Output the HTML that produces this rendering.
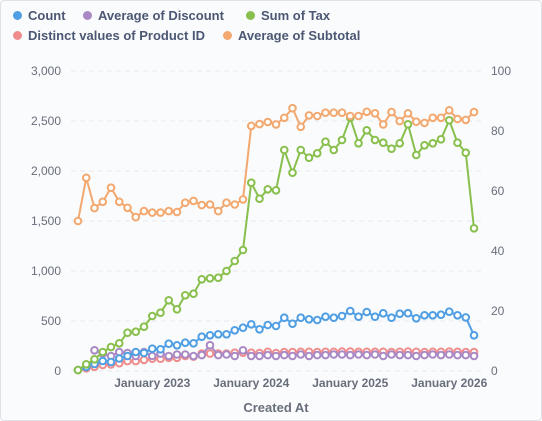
<!DOCTYPE html>
<html><head><meta charset="utf-8">
<style>
html,body{margin:0;padding:0;background:#fff;}
#wrap{position:relative;width:540px;height:419px;border:1px solid #dfe3e8;border-radius:4px;background:#f9fbfc;overflow:hidden;font-family:"Liberation Sans",sans-serif;}
.leg{position:absolute;font-size:13px;font-weight:bold;color:#4c5773;white-space:nowrap;}
.leg i{display:inline-block;width:9px;height:9px;border-radius:50%;margin-right:6px;vertical-align:0px;}
svg{position:absolute;left:0;top:0;}
</style></head><body>
<div id="wrap">
<div class="leg" style="left:12px;top:7px"><i style="background:#509ee3"></i>Count</div>
<div class="leg" style="left:82px;top:7px"><i style="background:#a989c5"></i>Average of Discount</div>
<div class="leg" style="left:245px;top:7px"><i style="background:#88bf4d"></i>Sum of Tax</div>
<div class="leg" style="left:12px;top:27px"><i style="background:#ef8c8c"></i>Distinct values of Product ID</div>
<div class="leg" style="left:222px;top:27px"><i style="background:#f2a86f"></i>Average of Subtotal</div>
<svg id="chart" width="542" height="421"></svg>
</div>
<script>
const leftTicks=[0,500,1000,1500,2000,2500,3000];
const leftTickLabels=["0","500","1,000","1,500","2,000","2,500","3,000"];
const rightTicks=[0,20,40,60,80,100];
const xTickIndex=[9,21,33,45];
const xTickLabels=["January 2023","January 2024","January 2025","January 2026"];
const count=[10,40,70,100,90,125,150,190,180,223,217,273,257,283,277,343,357,367,367,407,433,467,417,460,450,533,473,533,517,510,543,533,550,600,543,590,543,577,533,573,578,527,557,557,563,593,557,536,357];
const discount=[null,null,6.9,5.8,5,6.3,6,5,6.3,5,5.8,5,5.5,5.5,5,5.3,8.6,5.3,5.5,5,6.9,5,5,5.3,5,5.3,5,5.5,5,5.3,5.3,5.5,5.5,5.3,5.5,5.3,5.5,5,5.5,5.3,5.3,5,5.3,5.5,5.3,5.5,5.3,5.3,5];
const tax=[10,67,117,190,240,277,383,393,443,550,583,707,617,757,773,917,927,933,1000,1100,1210,1883,1723,1817,1807,2210,1983,2210,2133,2177,2293,2210,2310,2533,2277,2407,2310,2283,2223,2277,2467,2160,2257,2277,2317,2507,2283,2183,1427];
const productIds=[0.3,0.9,1.4,2,2.2,2.6,3.3,3.3,3.7,4.1,4.1,4.4,4.4,5,4.8,5.8,5.8,5.8,5.8,6.1,6.1,6.1,6,6.4,6,6.3,6.3,6.4,6.4,6.3,6.4,6.4,6.5,6.5,6.4,6.4,6.4,6.4,6.3,6.4,6.5,6.4,6.3,6.4,6.4,6.5,6.4,6.3,6.3];
const subtotal=[50,64.4,54.3,56.4,61.1,56.4,54.4,51.3,53.3,52.8,52.8,53.3,53,56.1,56.7,55.3,55.5,53.3,56.1,55.5,57.2,81.7,82.3,83,82.2,84.4,87.6,81.4,85.2,85,86.1,86.1,86.1,85,85,86.4,85.9,82.2,86.3,83.3,85.9,83.1,82.7,84.4,84.4,86.9,84,83.7,86.3];

const svg=document.getElementById('chart');
const NS='http://www.w3.org/2000/svg';
const X0=77,X1=473,Y0=370,Y1=70;
const n=subtotal.length;
function xs(i){return X0+(X1-X0)*i/(n-1);}
function yl(v){return Y0-(Y0-Y1)*v/3000;}
function yr(v){return Y0-(Y0-Y1)*v/100;}
function mk(tag,attrs){const e=document.createElementNS(NS,tag);for(const k in attrs)e.setAttribute(k,attrs[k]);svg.appendChild(e);return e;}

leftTicks.forEach((t,i)=>{
  const g=mk('line',{x1:70,x2:480,y1:yl(t),y2:yl(t),stroke:'#e6e9ee','stroke-dasharray':'5,4'});
  
  
  const tx=mk('text',{x:60,y:yl(t)+4,'text-anchor':'end','font-size':'12','fill':'#696e7b','font-family':'Liberation Sans, sans-serif'});
  tx.textContent=leftTickLabels[i];
  
  
});
rightTicks.forEach(t=>{
  const tx=mk('text',{x:490,y:yr(t)+4,'text-anchor':'start','font-size':'12','fill':'#696e7b','font-family':'Liberation Sans, sans-serif'});
  tx.textContent=String(t);
  
  
});
xTickIndex.forEach((idx,i)=>{
  const tx=mk('text',{x:xs(idx),y:386,'text-anchor':'middle','font-size':'12','font-weight':'bold','fill':'#696e7b','font-family':'Liberation Sans, sans-serif'});
  tx.textContent=xTickLabels[i];
  
  
});
const xt=mk('text',{x:275,y:411,'text-anchor':'middle','font-size':'13','font-weight':'bold','fill':'#696e7b','font-family':'Liberation Sans, sans-serif'});
xt.textContent='Created At';



function series(data,yf,color,name){
  let d='';
  data.forEach((v,i)=>{if(v==null)return;d+=(d?'L':'M')+xs(i)+','+yf(v);});
  const p=mk('path',{d:d,fill:'none',stroke:color,'stroke-width':2});
  
  
  data.forEach((v,i)=>{
    if(v==null)return;
    const c=mk('circle',{cx:xs(i),cy:yf(v),r:3.3,fill:'#fff',stroke:color,'stroke-width':2});
    
    
  });
}
series(productIds,yr,'#ef8c8c','distinct-product-id');
series(discount,yr,'#a989c5','average-discount');
series(count,yl,'#509ee3','count');
series(tax,yl,'#88bf4d','sum-of-tax');
series(subtotal,yr,'#f2a86f','average-subtotal');
</script>
</body></html>
